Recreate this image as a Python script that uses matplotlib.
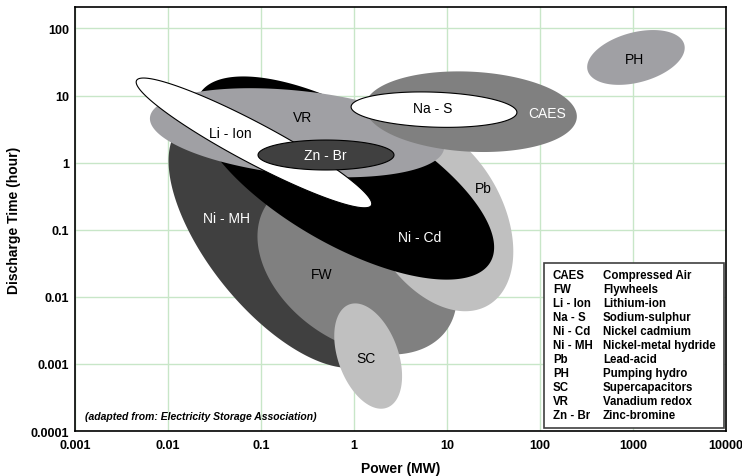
import numpy as np
import matplotlib.pyplot as plt
from matplotlib.patches import Rectangle

# technologies, in drawing order (back to front)
codes = ['Ni - MH', 'FW', 'Pb', 'Ni - Cd', 'VR', 'Li - Ion', 'Zn - Br', 'CAES', 'Na - S', 'SC', 'PH']
# ellipse centre: power (MW), discharge time (hour)
power_c = [0.152, 1.08, 7.62, 0.80, 0.244, 0.084, 0.50, 18.1, 7.25, 1.42, 1076]
time_c = [0.0647, 0.0282, 0.164, 0.59, 2.79, 1.97, 1.30, 5.75, 6.17, 0.00131, 37]
# half axes in decades (of power), tilt in degrees
semi_a = [1.63, 1.18, 1.118, 1.806, 1.59, 1.43, 0.731, 1.14, 0.892, 0.591, 0.538]
semi_b = [0.74, 0.806, 0.71, 0.71, 0.452, 0.215, 0.161, 0.43, 0.188, 0.323, 0.269]
tilt = [-51, -35, -60, -30, -6, -28, 0, -3, -2, -70, 15]
# where the name sits
label_power = [0.043, 0.453, 24.4, 5.13, 0.283, 0.0465, 0.49, 119, 7.06, 1.35, 1051]
label_time = [0.148, 0.0222, 0.418, 0.0769, 4.84, 2.79, 1.30, 5.56, 6.6, 0.00122, 34.7]

fills = ['#404040', '#808080', '#c0c0c0', '#000000', '#a0a0a4', '#ffffff',
         '#404040', '#808080', '#ffffff', '#c0c0c0', '#a0a0a4']
outlined = ['Li - Ion', 'Zn - Br', 'Na - S']
white_text = ['Ni - MH', 'Ni - Cd', 'Zn - Br', 'CAES']

legend_codes = ['CAES', 'FW', 'Li - Ion', 'Na - S', 'Ni - Cd', 'Ni - MH', 'Pb', 'PH', 'SC', 'VR', 'Zn - Br']
legend_names = ['Compressed Air', 'Flywheels', 'Lithium-ion', 'Sodium-sulphur', 'Nickel cadmium',
                'Nickel-metal hydride', 'Lead-acid', 'Pumping hydro', 'Supercapacitors',
                'Vanadium redox', 'Zinc-bromine']

xticks = [0.001, 0.01, 0.1, 1, 10, 100, 1000, 10000]
xlabels = ['0.001', '0.01', '0.1', '1', '10', '100', '1000', '10000']
yticks = [0.0001, 0.001, 0.01, 0.1, 1, 10, 100]
ylabels = ['0.0001', '0.001', '0.01', '0.1', '1', '10', '100']

xmin, xmax = 1e-3, 1e4
ymin, ymax = 1e-4, 10 ** 2.32

plt.rcParams['font.family'] = ['Liberation Sans', 'DejaVu Sans']

fig = plt.figure(figsize=(7.42, 4.77), dpi=100)
ax = fig.add_axes([0.1011, 0.0943, 0.8773, 0.8889])
ax.set_xscale('log')
ax.set_yscale('log')
ax.set_xlim(xmin, xmax)
ax.set_ylim(ymin, ymax)

# pixels per decade on each axis, so tilted ellipses look right on screen
pos = ax.get_position()
px_x = fig.get_figwidth() * pos.width / np.log10(xmax / xmin)
px_y = fig.get_figheight() * pos.height / np.log10(ymax / ymin)
ratio = px_x / px_y

t = np.linspace(0, 2 * np.pi, 300)
for i, code in enumerate(codes):
    th = np.radians(tilt[i])
    u = semi_a[i] * np.cos(t)
    v = semi_b[i] * np.sin(t)
    dx = u * np.cos(th) - v * np.sin(th)
    dy = (u * np.sin(th) + v * np.cos(th)) * ratio
    xs = 10 ** (np.log10(power_c[i]) + dx)
    ys = 10 ** (np.log10(time_c[i]) + dy)
    if code in outlined:
        ax.fill(xs, ys, facecolor=fills[i], edgecolor='black', lw=0.8, zorder=2 + i)
    else:
        ax.fill(xs, ys, facecolor=fills[i], edgecolor='none', zorder=2 + i)

for i, code in enumerate(codes):
    col = 'white' if code in white_text else 'black'
    ax.text(label_power[i], label_time[i], code, color=col, fontsize=10,
            ha='center', va='center', zorder=20)

ax.set_xticks(xticks)
ax.set_xticklabels(xlabels)
ax.set_yticks(yticks)
ax.set_yticklabels(ylabels)
ax.minorticks_off()
ax.tick_params(length=0, labelsize=9)
ax.tick_params(axis='x', pad=6)
ax.tick_params(axis='y', pad=4.5)
for lab in ax.get_xticklabels() + ax.get_yticklabels():
    lab.set_fontweight('bold')
ax.grid(True, color='#c8e6c8', lw=1)
ax.set_axisbelow(True)
for s in ax.spines.values():
    s.set_linewidth(1.2)
    s.set_zorder(30)

ax.set_xlabel('Power (MW)', fontsize=10, fontweight='bold', labelpad=7)
ax.set_ylabel('Discharge Time (hour)', fontsize=10, fontweight='bold', labelpad=7)

# key box
ax.add_patch(Rectangle((0.7204, 0.0071), 0.2765, 0.389, transform=ax.transAxes,
                       facecolor='white', edgecolor='#404040', lw=1.2, zorder=25))
for k in range(len(legend_codes)):
    yk = 0.368 - k * 0.033
    ax.text(0.734, yk, legend_codes[k], transform=ax.transAxes, fontsize=8.3,
            fontweight='bold', va='center', zorder=26)
    ax.text(0.811, yk, legend_names[k], transform=ax.transAxes, fontsize=8.3,
            fontweight='bold', va='center', zorder=26)

ax.text(0.015, 0.035, '(adapted from: Electricity Storage Association)', transform=ax.transAxes,
        fontsize=7.5, fontweight='bold', style='italic', va='center', zorder=26)

fig.savefig('out.png', dpi=100)
